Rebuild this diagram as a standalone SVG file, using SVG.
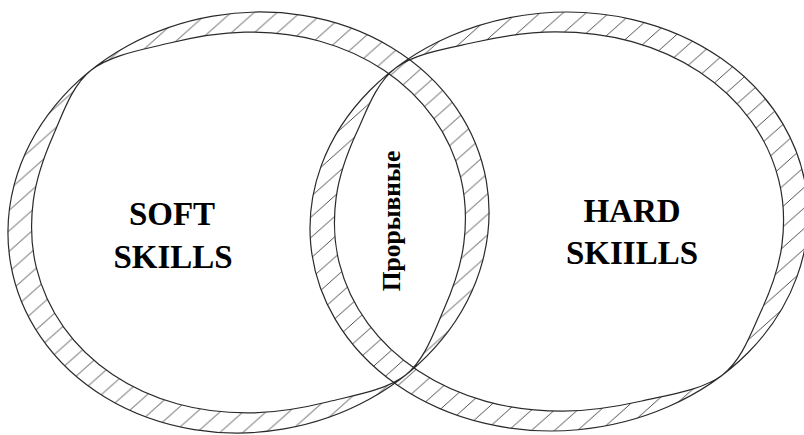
<svg xmlns="http://www.w3.org/2000/svg" width="804" height="435" viewBox="0 0 804 435">
  <style>
    .ring { fill-rule: evenodd; stroke: #2a2a2a; stroke-width: 1.2; stroke-linejoin: round; }
    .hl { stroke: #3a3a3a; stroke-width: 0.9; fill: none; }
    .lbl { font-family: "Liberation Serif", "Times New Roman", serif; font-weight: bold; fill: #000; text-anchor: middle; }
  </style>
  <defs>
    <pattern id="hatchL" patternUnits="userSpaceOnUse" width="23" height="20.5" patternTransform="rotate(9.8)">
      <path class="hl" d="M-23,20.5 L0,0 M0,20.5 L23,0 M23,20.5 L46,0 M-2.3,22.55 L0,20.5 M23,0 L25.3,-2.05"/>
    </pattern>
    <pattern id="hatchR" patternUnits="userSpaceOnUse" width="23" height="20.5" patternTransform="rotate(5.2)">
      <path class="hl" d="M-23,20.5 L0,0 M0,20.5 L23,0 M23,20.5 L46,0 M-2.3,22.55 L0,20.5 M23,0 L25.3,-2.05"/>
    </pattern>
  </defs>
  <rect width="804" height="435" fill="#fff"/>

  <g id="soft">
    <g transform="translate(248.5 222.5) rotate(-9.8)">
      <path class="ring" fill="url(#hatchL)" d="M241.4,0 A241.4,209.5 0 1 1 -241.4,0 A241.4,209.5 0 1 1 241.4,0 Z M129.29,176.80 C107.69,188.70 74.56,188.29 48.19,190.19 S-4.15,192.10 -28.94,188.21 S-78.71,177.14 -100.52,166.87 S-143.18,142.50 -159.77,126.61 S-190.54,91.34 -200.04,71.55 S-215.36,29.38 -216.78,7.88 S-215.05,-36.30 -208.55,-57.42 S-190.99,-98.92 -177.78,-118.82 S-150.89,-164.90 -129.29,-176.80 S-74.56,-188.29 -48.19,-190.19 S4.15,-192.10 28.94,-188.21 S78.71,-177.14 100.52,-166.87 S143.18,-142.50 159.77,-126.61 S190.54,-91.34 200.04,-71.55 S215.36,-29.38 216.78,-7.88 S215.05,36.30 208.55,57.42 S190.99,98.92 177.78,118.82 S150.89,164.90 129.29,176.80 Z"/>
    </g>
    <text class="lbl" x="172" y="225" font-size="33">SOFT</text>
    <text class="lbl" x="173" y="268" font-size="33">SKILLS</text>
  </g>

  <g id="hard">
    <g transform="translate(559 221.5) rotate(-5.2)">
      <path class="ring" fill="url(#hatchR)" d="M249.3,0 A249.3,209.1 0 1 1 -249.3,0 A249.3,209.1 0 1 1 249.3,0 Z M148.57,167.78 C127.36,180.99 93.20,182.69 66.20,186.26 S12.47,191.48 -13.40,189.18 S-65.64,181.32 -88.99,172.48 S-135.05,150.92 -153.52,136.16 S-188.27,103.01 -199.78,83.92 S-219.24,42.91 -222.58,21.60 S-224.65,-22.49 -219.80,-43.92 S-205.33,-86.35 -193.46,-106.99 S-169.78,-154.57 -148.57,-167.78 S-93.20,-182.69 -66.20,-186.26 S-12.47,-191.48 13.40,-189.18 S65.64,-181.32 88.99,-172.48 S135.05,-150.92 153.52,-136.16 S188.27,-103.01 199.78,-83.92 S219.24,-42.91 222.58,-21.60 S224.65,22.49 219.80,43.92 S205.33,86.35 193.46,106.99 S169.78,154.57 148.57,167.78 Z"/>
    </g>
    <text class="lbl" x="632" y="222" font-size="33">HARD</text>
    <text class="lbl" x="632" y="264" font-size="33">SKIILLS</text>
  </g>

  <g id="overlap">
    <text class="lbl" font-size="25.5" transform="translate(400 221) rotate(-90)">Прорывные</text>
  </g>

  <g id="connectors"/>
</svg>
